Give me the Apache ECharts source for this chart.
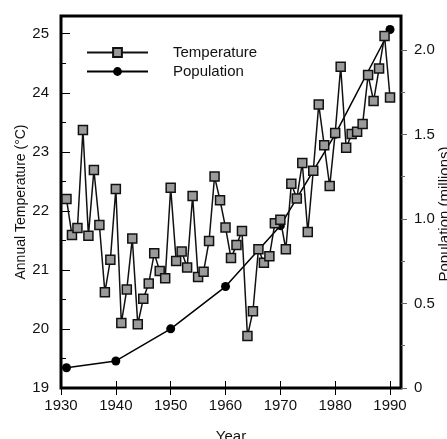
<!DOCTYPE html>
<html>
<head>
<meta charset="utf-8">
<script src="https://cdn.jsdelivr.net/npm/echarts@6/dist/echarts.min.js"></script>
<style>
html,body{margin:0;padding:0;background:#fff;}
#chart{width:447px;height:439px;}
</style>
</head>
<body>
<div id="chart"></div>
<script>
// annual temperature, one value per year
var tempYears = [1931,1932,1933,1934,1935,1936,1937,1938,1939,1940,
	1941,1942,1943,1944,1945,1946,1947,1948,1949,1950,
	1951,1952,1953,1954,1955,1956,1957,1958,1959,1960,
	1961,1962,1963,1964,1965,1966,1967,1968,1969,1970,
	1971,1972,1973,1974,1975,1976,1977,1978,1979,1980,
	1981,1982,1983,1984,1985,1986,1987,1988,1989,1990];
var tempValues = [22.20,21.59,21.71,23.37,21.58,22.69,21.76,20.62,21.17,22.37,
	20.10,20.67,21.53,20.08,20.51,20.77,21.28,20.98,20.86,22.39,
	21.15,21.31,21.04,22.25,20.88,20.97,21.49,22.58,22.18,21.72,
	21.20,21.42,21.66,19.88,20.30,21.35,21.12,21.23,21.79,21.85,
	21.35,22.46,22.21,22.81,21.64,22.68,23.80,23.11,22.42,23.32,
	24.44,23.07,23.30,23.34,23.47,24.30,23.86,24.41,24.96,23.92];

// population (millions), census years
var popYears = [1931,1940,1950,1960,1970,1980,1990];
var popValues = [0.12,0.16,0.35,0.60,0.96,1.50,2.12];

// tick marks
var yearTicks = [1930,1940,1950,1960,1970,1980,1990];
var tempMajorTicks = [19,20,21,22,23,24,25];
var tempMinorTicks = [19.5,20.5,21.5,22.5,23.5,24.5];
var popMajorTicks = [0,0.5,1.0,1.5,2.0];
var popMinorTicks = [0.25,0.75,1.25,1.75];

var FONT = 'Liberation Sans';

function pairs(xs, ys){
	var out = [];
	for(var i = 0; i < xs.length; i++){
		out.push([xs[i], ys[i]]);
	}
	return out;
}

var chart = echarts.init(document.getElementById('chart'), null, {renderer: 'canvas'});

var labelStyle = {color: '#111', fontFamily: FONT, fontSize: 15};

var option = {
	animation: false,
	backgroundColor: '#fff',
	grid: {
		left: 61, right: 46, top: 16, bottom: 51,
		outerBoundsMode: 'none', containLabel: false,
		show: true, borderColor: '#000', borderWidth: 3, backgroundColor: 'transparent'
	},
	legend: {
		data: ['Temperature', 'Population'],
		orient: 'vertical',
		left: 86, top: 45, padding: 0,
		itemWidth: 61, itemHeight: 11, itemGap: 4,
		textStyle: {color: '#111', fontFamily: FONT, fontSize: 15, lineHeight: 15, padding: [0, 0, 0, 20]}
	},
	xAxis: [
		{
			type: 'value', position: 'bottom', min: 1930, max: 1992,
			name: 'Year', nameLocation: 'middle', nameGap: 41, nameMoveOverlap: false,
			nameTextStyle: {color: '#111', fontFamily: FONT, fontSize: 15},
			axisLine: {show: false},
			splitLine: {show: false},
			axisTick: {show: true, inside: true, length: 7, customValues: yearTicks, lineStyle: {color: '#000', width: 1}},
			axisLabel: Object.assign({
				margin: 10, customValues: yearTicks,
				formatter: function(v){ return String(v); }
			}, labelStyle)
		},
		{
			type: 'value', position: 'top', min: 1930, max: 1992,
			axisLine: {show: false},
			splitLine: {show: false},
			axisTick: {show: true, inside: true, length: 7, customValues: yearTicks, lineStyle: {color: '#000', width: 1}},
			axisLabel: {show: false}
		}
	],
	yAxis: [
		{
			type: 'value', position: 'left', min: 19, max: 25.3,
			name: 'Annual Temperature (\u00B0C)', nameLocation: 'middle', nameGap: 33, nameRotate: 90, nameMoveOverlap: false,
			nameTextStyle: {color: '#111', fontFamily: FONT, fontSize: 14},
			axisLine: {show: false},
			splitLine: {show: false},
			axisTick: {show: true, inside: true, length: 9, customValues: tempMajorTicks, lineStyle: {color: '#000', width: 1}},
			axisLabel: Object.assign({margin: 12, customValues: tempMajorTicks}, labelStyle)
		},
		{
			type: 'value', position: 'left', min: 19, max: 25.3,
			axisLine: {show: false},
			splitLine: {show: false},
			axisTick: {show: true, inside: true, length: 5, customValues: tempMinorTicks, lineStyle: {color: '#000', width: 1}},
			axisLabel: {show: false}
		},
		{
			type: 'value', position: 'right', min: 0, max: 2.2,
			name: 'Population (millions)', nameLocation: 'middle', nameGap: 36, nameRotate: 90, nameMoveOverlap: false,
			nameTextStyle: {color: '#111', fontFamily: FONT, fontSize: 15, padding: [0, 24, 0, 0]},
			axisLine: {show: false},
			splitLine: {show: false},
			axisTick: {show: true, inside: false, length: 6, customValues: popMajorTicks, lineStyle: {color: '#666', width: 1}},
			axisLabel: Object.assign({
				margin: 13, customValues: popMajorTicks,
				formatter: function(v){ return v === 0 ? '0' : v.toFixed(1); }
			}, labelStyle)
		},
		{
			type: 'value', position: 'right', min: 0, max: 2.2,
			axisLine: {show: false},
			splitLine: {show: false},
			axisTick: {show: true, inside: false, length: 4, customValues: popMinorTicks, lineStyle: {color: '#666', width: 1}},
			axisLabel: {show: false}
		}
	],
	series: [
		{
			name: 'Temperature', type: 'line', xAxisIndex: 0, yAxisIndex: 0,
			data: pairs(tempYears, tempValues),
			symbol: 'rect', symbolSize: 9,
			itemStyle: {color: '#9a9a9a', borderColor: '#111', borderWidth: 1.5},
			lineStyle: {color: '#111', width: 1.5},
			z: 3
		},
		{
			name: 'Population', type: 'line', xAxisIndex: 0, yAxisIndex: 2,
			data: pairs(popYears, popValues),
			symbol: 'circle', symbolSize: 9,
			itemStyle: {color: '#000', borderColor: '#000', borderWidth: 0},
			lineStyle: {color: '#000', width: 1.5},
			z: 2
		}
	]
};
chart.setOption(option);
</script>
</body>
</html>
